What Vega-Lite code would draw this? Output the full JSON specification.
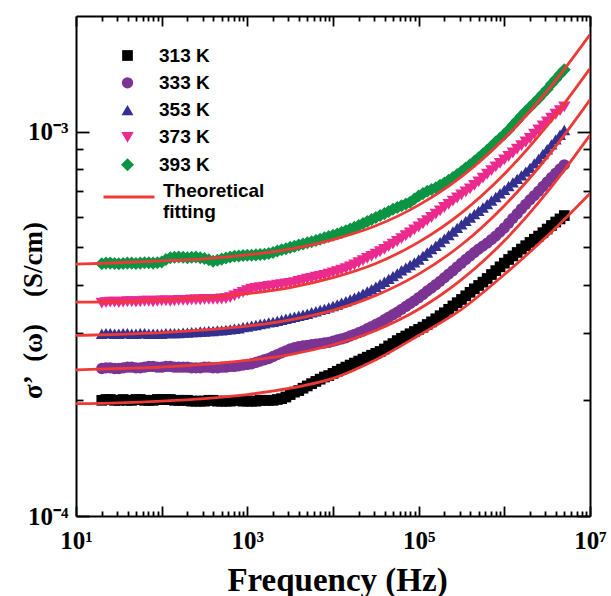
{
  "$schema": "https://vega.github.io/schema/vega-lite/v6.json",
  "width": 514,
  "height": 500,
  "autosize": {"type": "none"},
  "padding": {"left": 76, "top": 16, "right": 21, "bottom": 80},
  "background": "white",
  "config": {"view": {"stroke": null}},
  "datasets": {
    "pts": [
{"f":20,"s":2.00e-4,"T":"313 K"},{"f":22.4,"s":2.01e-4,"T":"313 K"},{"f":25.1,"s":2.01e-4,"T":"313 K"},{"f":28.2,"s":2.00e-4,"T":"313 K"},{"f":31.6,"s":2.00e-4,"T":"313 K"},{"f":35.5,"s":2.01e-4,"T":"313 K"},{"f":39.8,"s":2.00e-4,"T":"313 K"},{"f":44.7,"s":2.00e-4,"T":"313 K"},{"f":50.1,"s":2.01e-4,"T":"313 K"},{"f":56.2,"s":2.01e-4,"T":"313 K"},{"f":63.1,"s":2.00e-4,"T":"313 K"},{"f":70.8,"s":2.00e-4,"T":"313 K"},{"f":79.4,"s":2.00e-4,"T":"313 K"},{"f":89.1,"s":2.01e-4,"T":"313 K"},{"f":100,"s":2.01e-4,"T":"313 K"},{"f":112,"s":2.01e-4,"T":"313 K"},{"f":126,"s":2.01e-4,"T":"313 K"},{"f":141,"s":2.00e-4,"T":"313 K"},{"f":158,"s":2.00e-4,"T":"313 K"},{"f":178,"s":2.00e-4,"T":"313 K"},{"f":200,"s":2.00e-4,"T":"313 K"},{"f":224,"s":1.99e-4,"T":"313 K"},{"f":251,"s":1.99e-4,"T":"313 K"},{"f":282,"s":1.99e-4,"T":"313 K"},{"f":316,"s":1.99e-4,"T":"313 K"},{"f":355,"s":2.00e-4,"T":"313 K"},{"f":398,"s":2.00e-4,"T":"313 K"},{"f":447,"s":1.99e-4,"T":"313 K"},{"f":501,"s":1.99e-4,"T":"313 K"},{"f":562,"s":1.99e-4,"T":"313 K"},{"f":631,"s":1.99e-4,"T":"313 K"},{"f":708,"s":2.00e-4,"T":"313 K"},{"f":794,"s":2.00e-4,"T":"313 K"},{"f":891,"s":1.99e-4,"T":"313 K"},{"f":1000,"s":1.99e-4,"T":"313 K"},{"f":1122,"s":1.99e-4,"T":"313 K"},{"f":1259,"s":1.99e-4,"T":"313 K"},{"f":1413,"s":2.00e-4,"T":"313 K"},{"f":1585,"s":2.00e-4,"T":"313 K"},{"f":1778,"s":2.00e-4,"T":"313 K"},{"f":1995,"s":2.00e-4,"T":"313 K"},{"f":2239,"s":2.01e-4,"T":"313 K"},{"f":2512,"s":2.02e-4,"T":"313 K"},{"f":2818,"s":2.04e-4,"T":"313 K"},{"f":3162,"s":2.07e-4,"T":"313 K"},{"f":3548,"s":2.10e-4,"T":"313 K"},{"f":3981,"s":2.12e-4,"T":"313 K"},{"f":4467,"s":2.15e-4,"T":"313 K"},{"f":5012,"s":2.18e-4,"T":"313 K"},{"f":5623,"s":2.21e-4,"T":"313 K"},{"f":6310,"s":2.24e-4,"T":"313 K"},{"f":7079,"s":2.27e-4,"T":"313 K"},{"f":7943,"s":2.30e-4,"T":"313 K"},{"f":8913,"s":2.32e-4,"T":"313 K"},{"f":10000,"s":2.35e-4,"T":"313 K"},{"f":11220,"s":2.38e-4,"T":"313 K"},{"f":12589,"s":2.41e-4,"T":"313 K"},{"f":14125,"s":2.44e-4,"T":"313 K"},{"f":15849,"s":2.47e-4,"T":"313 K"},{"f":17783,"s":2.50e-4,"T":"313 K"},{"f":19953,"s":2.53e-4,"T":"313 K"},{"f":22387,"s":2.56e-4,"T":"313 K"},{"f":25119,"s":2.59e-4,"T":"313 K"},{"f":28184,"s":2.62e-4,"T":"313 K"},{"f":31623,"s":2.65e-4,"T":"313 K"},{"f":35481,"s":2.68e-4,"T":"313 K"},{"f":39811,"s":2.72e-4,"T":"313 K"},{"f":44668,"s":2.77e-4,"T":"313 K"},{"f":50119,"s":2.81e-4,"T":"313 K"},{"f":56234,"s":2.86e-4,"T":"313 K"},{"f":63096,"s":2.90e-4,"T":"313 K"},{"f":70795,"s":2.94e-4,"T":"313 K"},{"f":79433,"s":2.98e-4,"T":"313 K"},{"f":89125,"s":3.02e-4,"T":"313 K"},{"f":100000,"s":3.06e-4,"T":"313 K"},{"f":112202,"s":3.10e-4,"T":"313 K"},{"f":125893,"s":3.15e-4,"T":"313 K"},{"f":141254,"s":3.20e-4,"T":"313 K"},{"f":158489,"s":3.26e-4,"T":"313 K"},{"f":177828,"s":3.32e-4,"T":"313 K"},{"f":199526,"s":3.38e-4,"T":"313 K"},{"f":223872,"s":3.45e-4,"T":"313 K"},{"f":251189,"s":3.52e-4,"T":"313 K"},{"f":281838,"s":3.59e-4,"T":"313 K"},{"f":316228,"s":3.66e-4,"T":"313 K"},{"f":354813,"s":3.74e-4,"T":"313 K"},{"f":398107,"s":3.82e-4,"T":"313 K"},{"f":446684,"s":3.90e-4,"T":"313 K"},{"f":501187,"s":3.98e-4,"T":"313 K"},{"f":562341,"s":4.06e-4,"T":"313 K"},{"f":630957,"s":4.15e-4,"T":"313 K"},{"f":707946,"s":4.25e-4,"T":"313 K"},{"f":794328,"s":4.35e-4,"T":"313 K"},{"f":891251,"s":4.45e-4,"T":"313 K"},{"f":1000000,"s":4.55e-4,"T":"313 K"},{"f":1122018,"s":4.65e-4,"T":"313 K"},{"f":1258925,"s":4.75e-4,"T":"313 K"},{"f":1412538,"s":4.85e-4,"T":"313 K"},{"f":1584893,"s":4.95e-4,"T":"313 K"},{"f":1778279,"s":5.05e-4,"T":"313 K"},{"f":1995262,"s":5.15e-4,"T":"313 K"},{"f":2238721,"s":5.25e-4,"T":"313 K"},{"f":2511886,"s":5.35e-4,"T":"313 K"},{"f":2818383,"s":5.46e-4,"T":"313 K"},{"f":3162278,"s":5.58e-4,"T":"313 K"},{"f":3548134,"s":5.70e-4,"T":"313 K"},{"f":3981072,"s":5.82e-4,"T":"313 K"},{"f":4466836,"s":5.93e-4,"T":"313 K"},{"f":5011872,"s":6.05e-4,"T":"313 K"},
{"f":20,"s":2.42e-4,"T":"333 K"},{"f":22.4,"s":2.43e-4,"T":"333 K"},{"f":25.1,"s":2.43e-4,"T":"333 K"},{"f":28.2,"s":2.42e-4,"T":"333 K"},{"f":31.6,"s":2.42e-4,"T":"333 K"},{"f":35.5,"s":2.43e-4,"T":"333 K"},{"f":39.8,"s":2.44e-4,"T":"333 K"},{"f":44.7,"s":2.44e-4,"T":"333 K"},{"f":50.1,"s":2.43e-4,"T":"333 K"},{"f":56.2,"s":2.43e-4,"T":"333 K"},{"f":63.1,"s":2.44e-4,"T":"333 K"},{"f":70.8,"s":2.45e-4,"T":"333 K"},{"f":79.4,"s":2.45e-4,"T":"333 K"},{"f":89.1,"s":2.44e-4,"T":"333 K"},{"f":100,"s":2.44e-4,"T":"333 K"},{"f":112,"s":2.45e-4,"T":"333 K"},{"f":126,"s":2.45e-4,"T":"333 K"},{"f":141,"s":2.44e-4,"T":"333 K"},{"f":158,"s":2.44e-4,"T":"333 K"},{"f":178,"s":2.44e-4,"T":"333 K"},{"f":200,"s":2.44e-4,"T":"333 K"},{"f":224,"s":2.43e-4,"T":"333 K"},{"f":251,"s":2.43e-4,"T":"333 K"},{"f":282,"s":2.43e-4,"T":"333 K"},{"f":316,"s":2.44e-4,"T":"333 K"},{"f":355,"s":2.44e-4,"T":"333 K"},{"f":398,"s":2.43e-4,"T":"333 K"},{"f":447,"s":2.43e-4,"T":"333 K"},{"f":501,"s":2.44e-4,"T":"333 K"},{"f":562,"s":2.44e-4,"T":"333 K"},{"f":631,"s":2.45e-4,"T":"333 K"},{"f":708,"s":2.45e-4,"T":"333 K"},{"f":794,"s":2.46e-4,"T":"333 K"},{"f":891,"s":2.47e-4,"T":"333 K"},{"f":1000,"s":2.48e-4,"T":"333 K"},{"f":1122,"s":2.49e-4,"T":"333 K"},{"f":1259,"s":2.51e-4,"T":"333 K"},{"f":1413,"s":2.53e-4,"T":"333 K"},{"f":1585,"s":2.55e-4,"T":"333 K"},{"f":1778,"s":2.57e-4,"T":"333 K"},{"f":1995,"s":2.60e-4,"T":"333 K"},{"f":2239,"s":2.63e-4,"T":"333 K"},{"f":2512,"s":2.66e-4,"T":"333 K"},{"f":2818,"s":2.69e-4,"T":"333 K"},{"f":3162,"s":2.72e-4,"T":"333 K"},{"f":3548,"s":2.74e-4,"T":"333 K"},{"f":3981,"s":2.76e-4,"T":"333 K"},{"f":4467,"s":2.77e-4,"T":"333 K"},{"f":5012,"s":2.78e-4,"T":"333 K"},{"f":5623,"s":2.79e-4,"T":"333 K"},{"f":6310,"s":2.80e-4,"T":"333 K"},{"f":7079,"s":2.81e-4,"T":"333 K"},{"f":7943,"s":2.82e-4,"T":"333 K"},{"f":8913,"s":2.83e-4,"T":"333 K"},{"f":10000,"s":2.85e-4,"T":"333 K"},{"f":11220,"s":2.87e-4,"T":"333 K"},{"f":12589,"s":2.89e-4,"T":"333 K"},{"f":14125,"s":2.91e-4,"T":"333 K"},{"f":15849,"s":2.94e-4,"T":"333 K"},{"f":17783,"s":2.97e-4,"T":"333 K"},{"f":19953,"s":3.00e-4,"T":"333 K"},{"f":22387,"s":3.03e-4,"T":"333 K"},{"f":25119,"s":3.07e-4,"T":"333 K"},{"f":28184,"s":3.11e-4,"T":"333 K"},{"f":31623,"s":3.15e-4,"T":"333 K"},{"f":35481,"s":3.19e-4,"T":"333 K"},{"f":39811,"s":3.24e-4,"T":"333 K"},{"f":44668,"s":3.29e-4,"T":"333 K"},{"f":50119,"s":3.34e-4,"T":"333 K"},{"f":56234,"s":3.39e-4,"T":"333 K"},{"f":63096,"s":3.45e-4,"T":"333 K"},{"f":70795,"s":3.51e-4,"T":"333 K"},{"f":79433,"s":3.57e-4,"T":"333 K"},{"f":89125,"s":3.63e-4,"T":"333 K"},{"f":100000,"s":3.70e-4,"T":"333 K"},{"f":112202,"s":3.77e-4,"T":"333 K"},{"f":125893,"s":3.85e-4,"T":"333 K"},{"f":141254,"s":3.92e-4,"T":"333 K"},{"f":158489,"s":4.00e-4,"T":"333 K"},{"f":177828,"s":4.08e-4,"T":"333 K"},{"f":199526,"s":4.17e-4,"T":"333 K"},{"f":223872,"s":4.26e-4,"T":"333 K"},{"f":251189,"s":4.35e-4,"T":"333 K"},{"f":281838,"s":4.45e-4,"T":"333 K"},{"f":316228,"s":4.55e-4,"T":"333 K"},{"f":354813,"s":4.65e-4,"T":"333 K"},{"f":398107,"s":4.75e-4,"T":"333 K"},{"f":446684,"s":4.85e-4,"T":"333 K"},{"f":501187,"s":4.95e-4,"T":"333 K"},{"f":562341,"s":5.04e-4,"T":"333 K"},{"f":630957,"s":5.13e-4,"T":"333 K"},{"f":707946,"s":5.24e-4,"T":"333 K"},{"f":794328,"s":5.35e-4,"T":"333 K"},{"f":891251,"s":5.48e-4,"T":"333 K"},{"f":1000000,"s":5.62e-4,"T":"333 K"},{"f":1122018,"s":5.78e-4,"T":"333 K"},{"f":1258925,"s":5.95e-4,"T":"333 K"},{"f":1412538,"s":6.12e-4,"T":"333 K"},{"f":1584893,"s":6.30e-4,"T":"333 K"},{"f":1778279,"s":6.47e-4,"T":"333 K"},{"f":1995262,"s":6.65e-4,"T":"333 K"},{"f":2238721,"s":6.82e-4,"T":"333 K"},{"f":2511886,"s":7.00e-4,"T":"333 K"},{"f":2818383,"s":7.20e-4,"T":"333 K"},{"f":3162278,"s":7.40e-4,"T":"333 K"},{"f":3548134,"s":7.60e-4,"T":"333 K"},{"f":3981072,"s":7.80e-4,"T":"333 K"},{"f":4466836,"s":8.00e-4,"T":"333 K"},{"f":5011872,"s":8.20e-4,"T":"333 K"},
{"f":20,"s":2.98e-4,"T":"353 K"},{"f":22.4,"s":2.99e-4,"T":"353 K"},{"f":25.1,"s":2.99e-4,"T":"353 K"},{"f":28.2,"s":2.98e-4,"T":"353 K"},{"f":31.6,"s":2.98e-4,"T":"353 K"},{"f":35.5,"s":2.99e-4,"T":"353 K"},{"f":39.8,"s":2.99e-4,"T":"353 K"},{"f":44.7,"s":2.98e-4,"T":"353 K"},{"f":50.1,"s":2.98e-4,"T":"353 K"},{"f":56.2,"s":2.99e-4,"T":"353 K"},{"f":63.1,"s":2.99e-4,"T":"353 K"},{"f":70.8,"s":2.98e-4,"T":"353 K"},{"f":79.4,"s":2.98e-4,"T":"353 K"},{"f":89.1,"s":2.98e-4,"T":"353 K"},{"f":100,"s":2.98e-4,"T":"353 K"},{"f":112,"s":2.99e-4,"T":"353 K"},{"f":126,"s":2.99e-4,"T":"353 K"},{"f":141,"s":2.99e-4,"T":"353 K"},{"f":158,"s":2.99e-4,"T":"353 K"},{"f":178,"s":3.00e-4,"T":"353 K"},{"f":200,"s":3.00e-4,"T":"353 K"},{"f":224,"s":3.01e-4,"T":"353 K"},{"f":251,"s":3.01e-4,"T":"353 K"},{"f":282,"s":3.02e-4,"T":"353 K"},{"f":316,"s":3.02e-4,"T":"353 K"},{"f":355,"s":3.03e-4,"T":"353 K"},{"f":398,"s":3.03e-4,"T":"353 K"},{"f":447,"s":3.04e-4,"T":"353 K"},{"f":501,"s":3.04e-4,"T":"353 K"},{"f":562,"s":3.05e-4,"T":"353 K"},{"f":631,"s":3.06e-4,"T":"353 K"},{"f":708,"s":3.07e-4,"T":"353 K"},{"f":794,"s":3.08e-4,"T":"353 K"},{"f":891,"s":3.10e-4,"T":"353 K"},{"f":1000,"s":3.11e-4,"T":"353 K"},{"f":1122,"s":3.13e-4,"T":"353 K"},{"f":1259,"s":3.14e-4,"T":"353 K"},{"f":1413,"s":3.16e-4,"T":"353 K"},{"f":1585,"s":3.17e-4,"T":"353 K"},{"f":1778,"s":3.19e-4,"T":"353 K"},{"f":1995,"s":3.20e-4,"T":"353 K"},{"f":2239,"s":3.22e-4,"T":"353 K"},{"f":2512,"s":3.24e-4,"T":"353 K"},{"f":2818,"s":3.26e-4,"T":"353 K"},{"f":3162,"s":3.28e-4,"T":"353 K"},{"f":3548,"s":3.30e-4,"T":"353 K"},{"f":3981,"s":3.32e-4,"T":"353 K"},{"f":4467,"s":3.34e-4,"T":"353 K"},{"f":5012,"s":3.36e-4,"T":"353 K"},{"f":5623,"s":3.39e-4,"T":"353 K"},{"f":6310,"s":3.41e-4,"T":"353 K"},{"f":7079,"s":3.44e-4,"T":"353 K"},{"f":7943,"s":3.46e-4,"T":"353 K"},{"f":8913,"s":3.49e-4,"T":"353 K"},{"f":10000,"s":3.52e-4,"T":"353 K"},{"f":11220,"s":3.55e-4,"T":"353 K"},{"f":12589,"s":3.59e-4,"T":"353 K"},{"f":14125,"s":3.62e-4,"T":"353 K"},{"f":15849,"s":3.66e-4,"T":"353 K"},{"f":17783,"s":3.70e-4,"T":"353 K"},{"f":19953,"s":3.74e-4,"T":"353 K"},{"f":22387,"s":3.79e-4,"T":"353 K"},{"f":25119,"s":3.84e-4,"T":"353 K"},{"f":28184,"s":3.89e-4,"T":"353 K"},{"f":31623,"s":3.95e-4,"T":"353 K"},{"f":35481,"s":4.01e-4,"T":"353 K"},{"f":39811,"s":4.07e-4,"T":"353 K"},{"f":44668,"s":4.14e-4,"T":"353 K"},{"f":50119,"s":4.21e-4,"T":"353 K"},{"f":56234,"s":4.28e-4,"T":"353 K"},{"f":63096,"s":4.36e-4,"T":"353 K"},{"f":70795,"s":4.43e-4,"T":"353 K"},{"f":79433,"s":4.50e-4,"T":"353 K"},{"f":89125,"s":4.57e-4,"T":"353 K"},{"f":100000,"s":4.65e-4,"T":"353 K"},{"f":112202,"s":4.75e-4,"T":"353 K"},{"f":125893,"s":4.85e-4,"T":"353 K"},{"f":141254,"s":4.95e-4,"T":"353 K"},{"f":158489,"s":5.05e-4,"T":"353 K"},{"f":177828,"s":5.16e-4,"T":"353 K"},{"f":199526,"s":5.27e-4,"T":"353 K"},{"f":223872,"s":5.38e-4,"T":"353 K"},{"f":251189,"s":5.50e-4,"T":"353 K"},{"f":281838,"s":5.62e-4,"T":"353 K"},{"f":316228,"s":5.74e-4,"T":"353 K"},{"f":354813,"s":5.86e-4,"T":"353 K"},{"f":398107,"s":5.98e-4,"T":"353 K"},{"f":446684,"s":6.10e-4,"T":"353 K"},{"f":501187,"s":6.22e-4,"T":"353 K"},{"f":562341,"s":6.35e-4,"T":"353 K"},{"f":630957,"s":6.48e-4,"T":"353 K"},{"f":707946,"s":6.62e-4,"T":"353 K"},{"f":794328,"s":6.76e-4,"T":"353 K"},{"f":891251,"s":6.91e-4,"T":"353 K"},{"f":1000000,"s":7.06e-4,"T":"353 K"},{"f":1122018,"s":7.22e-4,"T":"353 K"},{"f":1258925,"s":7.38e-4,"T":"353 K"},{"f":1412538,"s":7.54e-4,"T":"353 K"},{"f":1584893,"s":7.70e-4,"T":"353 K"},{"f":1778279,"s":7.87e-4,"T":"353 K"},{"f":1995262,"s":8.05e-4,"T":"353 K"},{"f":2238721,"s":8.27e-4,"T":"353 K"},{"f":2511886,"s":8.50e-4,"T":"353 K"},{"f":2818383,"s":8.75e-4,"T":"353 K"},{"f":3162278,"s":9.00e-4,"T":"353 K"},{"f":3548134,"s":9.27e-4,"T":"353 K"},{"f":3981072,"s":9.55e-4,"T":"353 K"},{"f":4466836,"s":9.82e-4,"T":"353 K"},{"f":5011872,"s":1.010e-3,"T":"353 K"},
{"f":20,"s":3.58e-4,"T":"373 K"},{"f":22.4,"s":3.59e-4,"T":"373 K"},{"f":25.1,"s":3.60e-4,"T":"373 K"},{"f":28.2,"s":3.60e-4,"T":"373 K"},{"f":31.6,"s":3.59e-4,"T":"373 K"},{"f":35.5,"s":3.60e-4,"T":"373 K"},{"f":39.8,"s":3.61e-4,"T":"373 K"},{"f":44.7,"s":3.61e-4,"T":"373 K"},{"f":50.1,"s":3.60e-4,"T":"373 K"},{"f":56.2,"s":3.61e-4,"T":"373 K"},{"f":63.1,"s":3.62e-4,"T":"373 K"},{"f":70.8,"s":3.62e-4,"T":"373 K"},{"f":79.4,"s":3.61e-4,"T":"373 K"},{"f":89.1,"s":3.62e-4,"T":"373 K"},{"f":100,"s":3.63e-4,"T":"373 K"},{"f":112,"s":3.63e-4,"T":"373 K"},{"f":126,"s":3.62e-4,"T":"373 K"},{"f":141,"s":3.63e-4,"T":"373 K"},{"f":158,"s":3.64e-4,"T":"373 K"},{"f":178,"s":3.64e-4,"T":"373 K"},{"f":200,"s":3.64e-4,"T":"373 K"},{"f":224,"s":3.65e-4,"T":"373 K"},{"f":251,"s":3.65e-4,"T":"373 K"},{"f":282,"s":3.65e-4,"T":"373 K"},{"f":316,"s":3.66e-4,"T":"373 K"},{"f":355,"s":3.66e-4,"T":"373 K"},{"f":398,"s":3.66e-4,"T":"373 K"},{"f":447,"s":3.66e-4,"T":"373 K"},{"f":501,"s":3.67e-4,"T":"373 K"},{"f":562,"s":3.68e-4,"T":"373 K"},{"f":631,"s":3.70e-4,"T":"373 K"},{"f":708,"s":3.74e-4,"T":"373 K"},{"f":794,"s":3.78e-4,"T":"373 K"},{"f":891,"s":3.82e-4,"T":"373 K"},{"f":1000,"s":3.86e-4,"T":"373 K"},{"f":1122,"s":3.89e-4,"T":"373 K"},{"f":1259,"s":3.91e-4,"T":"373 K"},{"f":1413,"s":3.93e-4,"T":"373 K"},{"f":1585,"s":3.94e-4,"T":"373 K"},{"f":1778,"s":3.96e-4,"T":"373 K"},{"f":1995,"s":3.97e-4,"T":"373 K"},{"f":2239,"s":3.99e-4,"T":"373 K"},{"f":2512,"s":4.00e-4,"T":"373 K"},{"f":2818,"s":4.02e-4,"T":"373 K"},{"f":3162,"s":4.03e-4,"T":"373 K"},{"f":3548,"s":4.05e-4,"T":"373 K"},{"f":3981,"s":4.08e-4,"T":"373 K"},{"f":4467,"s":4.10e-4,"T":"373 K"},{"f":5012,"s":4.13e-4,"T":"373 K"},{"f":5623,"s":4.15e-4,"T":"373 K"},{"f":6310,"s":4.18e-4,"T":"373 K"},{"f":7079,"s":4.20e-4,"T":"373 K"},{"f":7943,"s":4.23e-4,"T":"373 K"},{"f":8913,"s":4.26e-4,"T":"373 K"},{"f":10000,"s":4.29e-4,"T":"373 K"},{"f":11220,"s":4.32e-4,"T":"373 K"},{"f":12589,"s":4.36e-4,"T":"373 K"},{"f":14125,"s":4.40e-4,"T":"373 K"},{"f":15849,"s":4.45e-4,"T":"373 K"},{"f":17783,"s":4.50e-4,"T":"373 K"},{"f":19953,"s":4.56e-4,"T":"373 K"},{"f":22387,"s":4.62e-4,"T":"373 K"},{"f":25119,"s":4.68e-4,"T":"373 K"},{"f":28184,"s":4.74e-4,"T":"373 K"},{"f":31623,"s":4.80e-4,"T":"373 K"},{"f":35481,"s":4.87e-4,"T":"373 K"},{"f":39811,"s":4.94e-4,"T":"373 K"},{"f":44668,"s":5.02e-4,"T":"373 K"},{"f":50119,"s":5.10e-4,"T":"373 K"},{"f":56234,"s":5.18e-4,"T":"373 K"},{"f":63096,"s":5.27e-4,"T":"373 K"},{"f":70795,"s":5.36e-4,"T":"373 K"},{"f":79433,"s":5.45e-4,"T":"373 K"},{"f":89125,"s":5.55e-4,"T":"373 K"},{"f":100000,"s":5.65e-4,"T":"373 K"},{"f":112202,"s":5.76e-4,"T":"373 K"},{"f":125893,"s":5.87e-4,"T":"373 K"},{"f":141254,"s":5.98e-4,"T":"373 K"},{"f":158489,"s":6.10e-4,"T":"373 K"},{"f":177828,"s":6.22e-4,"T":"373 K"},{"f":199526,"s":6.35e-4,"T":"373 K"},{"f":223872,"s":6.47e-4,"T":"373 K"},{"f":251189,"s":6.60e-4,"T":"373 K"},{"f":281838,"s":6.72e-4,"T":"373 K"},{"f":316228,"s":6.85e-4,"T":"373 K"},{"f":354813,"s":6.97e-4,"T":"373 K"},{"f":398107,"s":7.10e-4,"T":"373 K"},{"f":446684,"s":7.25e-4,"T":"373 K"},{"f":501187,"s":7.40e-4,"T":"373 K"},{"f":562341,"s":7.57e-4,"T":"373 K"},{"f":630957,"s":7.75e-4,"T":"373 K"},{"f":707946,"s":7.92e-4,"T":"373 K"},{"f":794328,"s":8.10e-4,"T":"373 K"},{"f":891251,"s":8.27e-4,"T":"373 K"},{"f":1000000,"s":8.45e-4,"T":"373 K"},{"f":1122018,"s":8.62e-4,"T":"373 K"},{"f":1258925,"s":8.80e-4,"T":"373 K"},{"f":1412538,"s":9.00e-4,"T":"373 K"},{"f":1584893,"s":9.20e-4,"T":"373 K"},{"f":1778279,"s":9.40e-4,"T":"373 K"},{"f":1995262,"s":9.60e-4,"T":"373 K"},{"f":2238721,"s":9.85e-4,"T":"373 K"},{"f":2511886,"s":1.010e-3,"T":"373 K"},{"f":2818383,"s":1.035e-3,"T":"373 K"},{"f":3162278,"s":1.060e-3,"T":"373 K"},{"f":3548134,"s":1.085e-3,"T":"373 K"},{"f":3981072,"s":1.110e-3,"T":"373 K"},{"f":4466836,"s":1.135e-3,"T":"373 K"},{"f":5011872,"s":1.160e-3,"T":"373 K"},
{"f":20,"s":4.53e-4,"T":"393 K"},{"f":22.4,"s":4.55e-4,"T":"393 K"},{"f":25.1,"s":4.55e-4,"T":"393 K"},{"f":28.2,"s":4.54e-4,"T":"393 K"},{"f":31.6,"s":4.53e-4,"T":"393 K"},{"f":35.5,"s":4.54e-4,"T":"393 K"},{"f":39.8,"s":4.55e-4,"T":"393 K"},{"f":44.7,"s":4.55e-4,"T":"393 K"},{"f":50.1,"s":4.54e-4,"T":"393 K"},{"f":56.2,"s":4.55e-4,"T":"393 K"},{"f":63.1,"s":4.56e-4,"T":"393 K"},{"f":70.8,"s":4.56e-4,"T":"393 K"},{"f":79.4,"s":4.55e-4,"T":"393 K"},{"f":89.1,"s":4.56e-4,"T":"393 K"},{"f":100,"s":4.58e-4,"T":"393 K"},{"f":112,"s":4.65e-4,"T":"393 K"},{"f":126,"s":4.70e-4,"T":"393 K"},{"f":141,"s":4.71e-4,"T":"393 K"},{"f":158,"s":4.72e-4,"T":"393 K"},{"f":178,"s":4.71e-4,"T":"393 K"},{"f":200,"s":4.70e-4,"T":"393 K"},{"f":224,"s":4.71e-4,"T":"393 K"},{"f":251,"s":4.72e-4,"T":"393 K"},{"f":282,"s":4.70e-4,"T":"393 K"},{"f":316,"s":4.68e-4,"T":"393 K"},{"f":355,"s":4.64e-4,"T":"393 K"},{"f":398,"s":4.60e-4,"T":"393 K"},{"f":447,"s":4.63e-4,"T":"393 K"},{"f":501,"s":4.66e-4,"T":"393 K"},{"f":562,"s":4.69e-4,"T":"393 K"},{"f":631,"s":4.72e-4,"T":"393 K"},{"f":708,"s":4.74e-4,"T":"393 K"},{"f":794,"s":4.75e-4,"T":"393 K"},{"f":891,"s":4.76e-4,"T":"393 K"},{"f":1000,"s":4.77e-4,"T":"393 K"},{"f":1122,"s":4.77e-4,"T":"393 K"},{"f":1259,"s":4.78e-4,"T":"393 K"},{"f":1413,"s":4.79e-4,"T":"393 K"},{"f":1585,"s":4.80e-4,"T":"393 K"},{"f":1778,"s":4.82e-4,"T":"393 K"},{"f":1995,"s":4.85e-4,"T":"393 K"},{"f":2239,"s":4.89e-4,"T":"393 K"},{"f":2512,"s":4.93e-4,"T":"393 K"},{"f":2818,"s":4.96e-4,"T":"393 K"},{"f":3162,"s":5.00e-4,"T":"393 K"},{"f":3548,"s":5.03e-4,"T":"393 K"},{"f":3981,"s":5.07e-4,"T":"393 K"},{"f":4467,"s":5.10e-4,"T":"393 K"},{"f":5012,"s":5.14e-4,"T":"393 K"},{"f":5623,"s":5.17e-4,"T":"393 K"},{"f":6310,"s":5.21e-4,"T":"393 K"},{"f":7079,"s":5.25e-4,"T":"393 K"},{"f":7943,"s":5.30e-4,"T":"393 K"},{"f":8913,"s":5.34e-4,"T":"393 K"},{"f":10000,"s":5.38e-4,"T":"393 K"},{"f":11220,"s":5.42e-4,"T":"393 K"},{"f":12589,"s":5.47e-4,"T":"393 K"},{"f":14125,"s":5.52e-4,"T":"393 K"},{"f":15849,"s":5.58e-4,"T":"393 K"},{"f":17783,"s":5.64e-4,"T":"393 K"},{"f":19953,"s":5.70e-4,"T":"393 K"},{"f":22387,"s":5.77e-4,"T":"393 K"},{"f":25119,"s":5.84e-4,"T":"393 K"},{"f":28184,"s":5.91e-4,"T":"393 K"},{"f":31623,"s":5.98e-4,"T":"393 K"},{"f":35481,"s":6.05e-4,"T":"393 K"},{"f":39811,"s":6.12e-4,"T":"393 K"},{"f":44668,"s":6.20e-4,"T":"393 K"},{"f":50119,"s":6.28e-4,"T":"393 K"},{"f":56234,"s":6.35e-4,"T":"393 K"},{"f":63096,"s":6.42e-4,"T":"393 K"},{"f":70795,"s":6.48e-4,"T":"393 K"},{"f":79433,"s":6.55e-4,"T":"393 K"},{"f":89125,"s":6.68e-4,"T":"393 K"},{"f":100000,"s":6.80e-4,"T":"393 K"},{"f":112202,"s":6.90e-4,"T":"393 K"},{"f":125893,"s":7.00e-4,"T":"393 K"},{"f":141254,"s":7.07e-4,"T":"393 K"},{"f":158489,"s":7.15e-4,"T":"393 K"},{"f":177828,"s":7.25e-4,"T":"393 K"},{"f":199526,"s":7.35e-4,"T":"393 K"},{"f":223872,"s":7.47e-4,"T":"393 K"},{"f":251189,"s":7.60e-4,"T":"393 K"},{"f":281838,"s":7.74e-4,"T":"393 K"},{"f":316228,"s":7.88e-4,"T":"393 K"},{"f":354813,"s":8.04e-4,"T":"393 K"},{"f":398107,"s":8.20e-4,"T":"393 K"},{"f":446684,"s":8.37e-4,"T":"393 K"},{"f":501187,"s":8.55e-4,"T":"393 K"},{"f":562341,"s":8.75e-4,"T":"393 K"},{"f":630957,"s":8.95e-4,"T":"393 K"},{"f":707946,"s":9.17e-4,"T":"393 K"},{"f":794328,"s":9.40e-4,"T":"393 K"},{"f":891251,"s":9.62e-4,"T":"393 K"},{"f":1000000,"s":9.85e-4,"T":"393 K"},{"f":1122018,"s":1.010e-3,"T":"393 K"},{"f":1258925,"s":1.040e-3,"T":"393 K"},{"f":1412538,"s":1.070e-3,"T":"393 K"},{"f":1584893,"s":1.100e-3,"T":"393 K"},{"f":1778279,"s":1.130e-3,"T":"393 K"},{"f":1995262,"s":1.160e-3,"T":"393 K"},{"f":2238721,"s":1.190e-3,"T":"393 K"},{"f":2511886,"s":1.220e-3,"T":"393 K"},{"f":2818383,"s":1.255e-3,"T":"393 K"},{"f":3162278,"s":1.290e-3,"T":"393 K"},{"f":3548134,"s":1.330e-3,"T":"393 K"},{"f":3981072,"s":1.370e-3,"T":"393 K"},{"f":4466836,"s":1.410e-3,"T":"393 K"},{"f":5011872,"s":1.450e-3,"T":"393 K"}
    ],
    "fit": [
      {"f":10,"s":1.96e-4,"T":"313 K","k":"Theoretical fitting"},{"f":31.62,"s":1.97e-4,"T":"313 K","k":"Theoretical fitting"},{"f":100,"s":1.99e-4,"T":"313 K","k":"Theoretical fitting"},{"f":316.2,"s":2.02e-4,"T":"313 K","k":"Theoretical fitting"},{"f":1000,"s":2.07e-4,"T":"313 K","k":"Theoretical fitting"},{"f":3162,"s":2.15e-4,"T":"313 K","k":"Theoretical fitting"},{"f":10000,"s":2.28e-4,"T":"313 K","k":"Theoretical fitting"},{"f":31623,"s":2.55e-4,"T":"313 K","k":"Theoretical fitting"},{"f":100000,"s":2.95e-4,"T":"313 K","k":"Theoretical fitting"},{"f":316228,"s":3.45e-4,"T":"313 K","k":"Theoretical fitting"},{"f":1000000,"s":4.25e-4,"T":"313 K","k":"Theoretical fitting"},{"f":3162278,"s":5.35e-4,"T":"313 K","k":"Theoretical fitting"},{"f":10000000,"s":6.91e-4,"T":"313 K","k":"Theoretical fitting"},
      {"f":10,"s":2.40e-4,"T":"333 K","k":"Theoretical fitting"},{"f":31.62,"s":2.42e-4,"T":"333 K","k":"Theoretical fitting"},{"f":100,"s":2.44e-4,"T":"333 K","k":"Theoretical fitting"},{"f":316.2,"s":2.48e-4,"T":"333 K","k":"Theoretical fitting"},{"f":1000,"s":2.54e-4,"T":"333 K","k":"Theoretical fitting"},{"f":3162,"s":2.63e-4,"T":"333 K","k":"Theoretical fitting"},{"f":10000,"s":2.79e-4,"T":"333 K","k":"Theoretical fitting"},{"f":31623,"s":3.04e-4,"T":"333 K","k":"Theoretical fitting"},{"f":100000,"s":3.45e-4,"T":"333 K","k":"Theoretical fitting"},{"f":316228,"s":4.12e-4,"T":"333 K","k":"Theoretical fitting"},{"f":1000000,"s":5.20e-4,"T":"333 K","k":"Theoretical fitting"},{"f":3162278,"s":6.96e-4,"T":"333 K","k":"Theoretical fitting"},{"f":10000000,"s":9.80e-4,"T":"333 K","k":"Theoretical fitting"},
      {"f":10,"s":2.95e-4,"T":"353 K","k":"Theoretical fitting"},{"f":31.62,"s":2.97e-4,"T":"353 K","k":"Theoretical fitting"},{"f":100,"s":3.00e-4,"T":"353 K","k":"Theoretical fitting"},{"f":316.2,"s":3.05e-4,"T":"353 K","k":"Theoretical fitting"},{"f":1000,"s":3.12e-4,"T":"353 K","k":"Theoretical fitting"},{"f":3162,"s":3.24e-4,"T":"353 K","k":"Theoretical fitting"},{"f":10000,"s":3.43e-4,"T":"353 K","k":"Theoretical fitting"},{"f":31623,"s":3.75e-4,"T":"353 K","k":"Theoretical fitting"},{"f":100000,"s":4.26e-4,"T":"353 K","k":"Theoretical fitting"},{"f":316228,"s":5.08e-4,"T":"353 K","k":"Theoretical fitting"},{"f":1000000,"s":6.42e-4,"T":"353 K","k":"Theoretical fitting"},{"f":3162278,"s":8.58e-4,"T":"353 K","k":"Theoretical fitting"},{"f":10000000,"s":1.21e-3,"T":"353 K","k":"Theoretical fitting"},
      {"f":10,"s":3.60e-4,"T":"373 K","k":"Theoretical fitting"},{"f":31.62,"s":3.61e-4,"T":"373 K","k":"Theoretical fitting"},{"f":100,"s":3.65e-4,"T":"373 K","k":"Theoretical fitting"},{"f":316.2,"s":3.70e-4,"T":"373 K","k":"Theoretical fitting"},{"f":1000,"s":3.79e-4,"T":"373 K","k":"Theoretical fitting"},{"f":3162,"s":3.93e-4,"T":"373 K","k":"Theoretical fitting"},{"f":10000,"s":4.17e-4,"T":"373 K","k":"Theoretical fitting"},{"f":31623,"s":4.54e-4,"T":"373 K","k":"Theoretical fitting"},{"f":100000,"s":5.16e-4,"T":"373 K","k":"Theoretical fitting"},{"f":316228,"s":6.15e-4,"T":"373 K","k":"Theoretical fitting"},{"f":1000000,"s":7.76e-4,"T":"373 K","k":"Theoretical fitting"},{"f":3162278,"s":1.037e-3,"T":"373 K","k":"Theoretical fitting"},{"f":10000000,"s":1.46e-3,"T":"373 K","k":"Theoretical fitting"},
      {"f":10,"s":4.52e-4,"T":"393 K","k":"Theoretical fitting"},{"f":31.62,"s":4.56e-4,"T":"393 K","k":"Theoretical fitting"},{"f":100,"s":4.61e-4,"T":"393 K","k":"Theoretical fitting"},{"f":316.2,"s":4.67e-4,"T":"393 K","k":"Theoretical fitting"},{"f":1000,"s":4.78e-4,"T":"393 K","k":"Theoretical fitting"},{"f":3162,"s":4.95e-4,"T":"393 K","k":"Theoretical fitting"},{"f":10000,"s":5.24e-4,"T":"393 K","k":"Theoretical fitting"},{"f":31623,"s":5.69e-4,"T":"393 K","k":"Theoretical fitting"},{"f":100000,"s":6.44e-4,"T":"393 K","k":"Theoretical fitting"},{"f":316228,"s":7.64e-4,"T":"393 K","k":"Theoretical fitting"},{"f":1000000,"s":9.60e-4,"T":"393 K","k":"Theoretical fitting"},{"f":3162278,"s":1.276e-3,"T":"393 K","k":"Theoretical fitting"},{"f":10000000,"s":1.79e-3,"T":"393 K","k":"Theoretical fitting"}
    ]
  },
  "resolve": {"axis": {"x": "independent", "y": "independent"}},
  "layer": [
    {
      "data": {"name": "pts"},
      "mark": {"type": "point", "filled": true, "opacity": 1, "strokeWidth": 0},
      "encoding": {
        "x": {"field": "f", "type": "quantitative",
          "scale": {"type": "log", "domain": [10, 10000000], "nice": false},
          "axis": {"orient": "top", "values": [10,20,30,40,50,60,70,80,90,100,200,300,400,500,600,700,800,900,1000,2000,3000,4000,5000,6000,7000,8000,9000,10000,20000,30000,40000,50000,60000,70000,80000,90000,100000,200000,300000,400000,500000,600000,700000,800000,900000,1000000,2000000,3000000,4000000,5000000,6000000,7000000,8000000,9000000,10000000],
            "labels": false, "title": null, "grid": false,
            "domainColor": "black", "domainWidth": 2, "tickColor": "black", "tickWidth": 1.8,
            "tickSize": {"condition": {"test": "indexof([10,100,1000,10000,100000,1000000,10000000], datum.value) >= 0", "value": -10}, "value": -5}}},
        "y": {"field": "s", "type": "quantitative",
          "scale": {"type": "log", "domain": [0.0001, 0.002], "nice": false},
          "axis": {"orient": "right", "values": [0.0001,0.0002,0.0003,0.0004,0.0005,0.0006,0.0007,0.0008,0.0009,0.001],
            "labels": false, "title": null, "grid": false,
            "domainColor": "black", "domainWidth": 2, "tickColor": "black", "tickWidth": 1.8,
            "tickSize": {"condition": {"test": "datum.value == 0.0001 || datum.value == 0.001", "value": -13}, "value": -7}}},
        "color": {"field": "T", "type": "nominal",
          "scale": {"domain": ["313 K","333 K","353 K","373 K","393 K"], "range": ["#000000","#7B3494","#33308F","#EC2A8E","#0C9444"]},
          "legend": {"title": null, "orient": "none", "legendX": 42, "legendY": 30, "padding": 0, "rowPadding": 7.3, "labelOffset": 22, "labelFont": "Liberation Sans", "labelFontWeight": "bold", "labelFontSize": 19, "labelColor": "black"}},
        "shape": {"field": "T", "type": "nominal",
          "scale": {"domain": ["313 K","333 K","353 K","373 K","393 K"], "range": ["square","circle","triangle-up","triangle-down","diamond"]},
          "legend": {"title": null, "orient": "none", "legendX": 42, "legendY": 30, "padding": 0, "rowPadding": 7.3, "labelOffset": 22, "labelFont": "Liberation Sans", "labelFontWeight": "bold", "labelFontSize": 19, "labelColor": "black"}},
        "size": {"field": "T", "type": "nominal",
          "scale": {"domain": ["313 K","333 K","353 K","373 K","393 K"], "range": [115, 170, 280, 280, 300]},
          "legend": {"title": null, "orient": "none", "legendX": 42, "legendY": 30, "padding": 0, "rowPadding": 7.3, "labelOffset": 22, "labelFont": "Liberation Sans", "labelFontWeight": "bold", "labelFontSize": 19, "labelColor": "black"}}
      }
    },
    {
      "data": {"name": "fit"},
      "mark": {"type": "line", "interpolate": "monotone", "strokeWidth": 2.8, "clip": true},
      "encoding": {
        "x": {"field": "f", "type": "quantitative",
          "scale": {"type": "log", "domain": [10, 10000000], "nice": false},
          "axis": {"orient": "bottom", "values": [10,20,30,40,50,60,70,80,90,100,200,300,400,500,600,700,800,900,1000,2000,3000,4000,5000,6000,7000,8000,9000,10000,20000,30000,40000,50000,60000,70000,80000,90000,100000,200000,300000,400000,500000,600000,700000,800000,900000,1000000,2000000,3000000,4000000,5000000,6000000,7000000,8000000,9000000,10000000],
            "labelExpr": "datum.value == 10 ? '10\u00b9' : datum.value == 1000 ? '10\u00b3' : datum.value == 100000 ? '10\u2075' : datum.value == 10000000 ? '10\u2077' : ''",
            "labelFlush": false, "labelOverlap": false, "labelPadding": 22, "labelBaseline": "top",
            "labelFont": "Liberation Serif", "labelFontWeight": "bold", "labelFontSize": 25, "labelColor": "black",
            "title": "Frequency (Hz)", "titleFont": "Liberation Serif", "titleFontWeight": "bold", "titleFontSize": 33, "titleColor": "black",
            "titleX": 261, "titleY": 74, "titleBaseline": "alphabetic", "titleAlign": "center", "titleAnchor": null,
            "grid": false, "domainColor": "black", "domainWidth": 2, "tickColor": "black", "tickWidth": 1.8,
            "tickSize": {"condition": {"test": "indexof([10,100,1000,10000,100000,1000000,10000000], datum.value) >= 0", "value": -10}, "value": -5}}},
        "y": {"field": "s", "type": "quantitative",
          "scale": {"type": "log", "domain": [0.0001, 0.002], "nice": false},
          "axis": {"orient": "left", "values": [0.0001,0.0002,0.0003,0.0004,0.0005,0.0006,0.0007,0.0008,0.0009,0.001],
            "labelExpr": "datum.value == 0.0001 ? '10\u207b\u2074' : datum.value == 0.001 ? '10\u207b\u00b3' : ''",
            "labelOverlap": false, "labelPadding": 21, "labelBaseline": "middle",
            "labelFont": "Liberation Serif", "labelFontWeight": "bold", "labelFontSize": 25, "labelColor": "black",
            "title": "σ’\u2002(ω)\u2003(S/cm)", "titleFont": "Liberation Serif", "titleFontWeight": "bold", "titleFontSize": 27, "titleColor": "black",
            "titleX": -43, "titleY": 294, "titleAngle": 270, "titleBaseline": "middle", "titleAlign": "center", "titleAnchor": null,
            "grid": false, "domainColor": "black", "domainWidth": 2, "tickColor": "black", "tickWidth": 1.8,
            "tickSize": {"condition": {"test": "datum.value == 0.0001 || datum.value == 0.001", "value": -13}, "value": -7}}},
        "detail": {"field": "T", "type": "nominal"},
        "stroke": {"field": "k", "type": "nominal",
          "scale": {"domain": ["Theoretical fitting"], "range": ["#EE3A36"]},
          "legend": {"title": null, "orient": "none", "legendX": 26, "legendY": 154, "padding": 0, "symbolType": "stroke", "symbolSize": 2601, "symbolStrokeWidth": 3, "labelOffset": 7,
            "labelExpr": "['Theoretical', '\u00a0fitting']", "labelBaseline": "alphabetic",
            "labelFont": "Liberation Sans", "labelFontWeight": "bold", "labelFontSize": 19, "labelColor": "black"}}
      }
    }
  ]
}
